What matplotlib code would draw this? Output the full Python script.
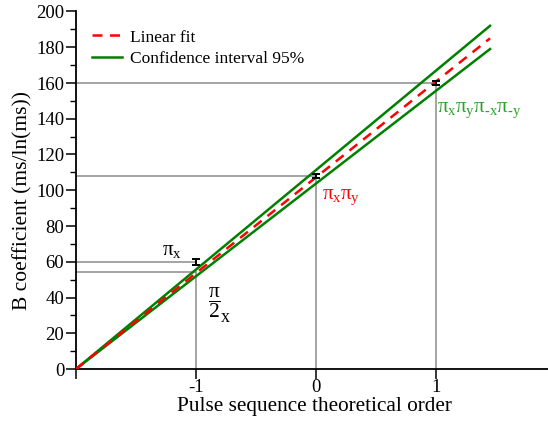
import matplotlib
matplotlib.use("Agg")
import matplotlib.pyplot as plt
from matplotlib.ticker import MultipleLocator

plt.rcParams['font.family'] = ['Liberation Serif', 'DejaVu Serif']
plt.rcParams['mathtext.fontset'] = 'custom'
plt.rcParams['mathtext.rm'] = 'Liberation Serif'
plt.rcParams['mathtext.it'] = 'Liberation Serif'
plt.rcParams['mathtext.bf'] = 'Liberation Serif:bold'
plt.rcParams['axes.unicode_minus'] = False

# ---- data ----
line_x = [-2.0, 1.45]
fit_y = [0.0, 185.0]
ci_upper_y = [0.0, 192.0]
ci_lower_y = [0.0, 179.0]

point_x = [-1, 0, 1]
point_y = [60, 108, 160]
point_err = [1.7, 1.0, 1.0]

half_pi_x = -1
half_pi_y = 54

xticks = [-2, -1, 0, 1]
xtick_labels = ['', '-1', '0', '1']
yticks = [0, 20, 40, 60, 80, 100, 120, 140, 160, 180, 200]

fig = plt.figure(figsize=(5.48, 4.23), dpi=100)
ax = fig.add_axes([76/548, (423-369)/423, 472/548, 357.5/423])

gray = '#8c8c8c'
# guide lines
for x, y in zip(point_x, point_y):
    ax.plot([-2, x], [y, y], color=gray, lw=1.1, zorder=1)
ax.plot([-2, half_pi_x], [half_pi_y, half_pi_y], color=gray, lw=1.1, zorder=1)
ax.plot([half_pi_x, half_pi_x], [0, half_pi_y], color=gray, lw=1.1, zorder=1)
for x, y in zip(point_x[1:], point_y[1:]):
    ax.plot([x, x], [0, y], color=gray, lw=1.1, zorder=1)

ax.plot(line_x, ci_upper_y, color='#008000', lw=1.8, zorder=3,
        label='Confidence interval 95%')
ax.plot(line_x, ci_lower_y, color='#008000', lw=1.8, zorder=3)
ax.plot(line_x, fit_y, color='#ff0000', lw=1.8, ls=(0, (4, 3)), zorder=4,
        label='Linear fit')

ax.errorbar(point_x, point_y, yerr=point_err, fmt='none', ecolor='black',
            elinewidth=1.4, capsize=3, capthick=1.4, zorder=5)

ax.set_xlim(-2, 1.933)
ax.set_ylim(0, 200)
ax.set_xticks(xticks)
ax.set_xticklabels(xtick_labels)
ax.set_yticks(yticks)
ax.yaxis.set_minor_locator(MultipleLocator(10))
ax.spines['top'].set_visible(False)
ax.spines['right'].set_visible(False)
for s in ('left', 'bottom'):
    ax.spines[s].set_linewidth(1.3)
ax.tick_params(axis='both', which='major', direction='out', length=7, width=1.1,
               labelsize=13.5, pad=1.5)
ax.tick_params(axis='y', which='minor', direction='out', length=4, width=1.0)
ax.tick_params(axis='x', which='major', pad=0.5)

ax.set_xlabel('Pulse sequence theoretical order', fontsize=15.3)
ax.xaxis.set_label_coords(0.505, -0.078)
ax.set_ylabel('B coefficient (ms/ln(ms))', fontsize=15.5)
ax.yaxis.set_label_coords(-0.093, 0.47)

handles, labels = ax.get_legend_handles_labels()
ax.legend(handles[::-1], labels[::-1], loc='upper left',
          bbox_to_anchor=(0.034, 0.95), frameon=False, fontsize=12.5,
          borderpad=0, borderaxespad=0, handlelength=1.75, handletextpad=0.45,
          labelspacing=0.3)

ax.text(-1.28, 61, r'$\pi_{\mathrm{x}}$', fontsize=15, color='black',
        ha='left', va='bottom')
ax.text(-0.9, 47, r'$\dfrac{\pi}{2}$', fontsize=15.5, color='black',
        ha='left', va='top')
ax.text(-0.795, 26.5, 'x', fontsize=13, color='black', ha='left', va='baseline')
ax.text(0.05, 96, r'$\pi_{\mathrm{x}}\pi_{\mathrm{y}}$', fontsize=15,
        color='#ff0000', ha='left', va='center')
ax.text(1.01, 145, r'$\pi_{\mathrm{x}}\pi_{\mathrm{y}}\pi_{\text{-x}}\pi_{\text{-y}}$',
        fontsize=15, color='#2ca02c', ha='left', va='center')

fig.savefig('out.png', dpi=100)
